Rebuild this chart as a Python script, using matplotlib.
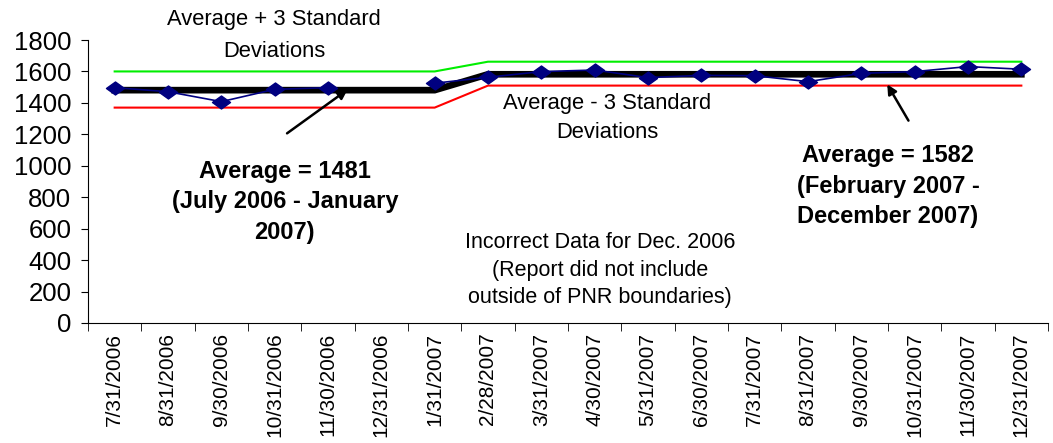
import matplotlib
matplotlib.use("Agg")
import matplotlib.pyplot as plt
from matplotlib.path import Path
import numpy as np

dates = ["7/31/2006", "8/31/2006", "9/30/2006", "10/31/2006", "11/30/2006", "12/31/2006",
         "1/31/2007", "2/28/2007", "3/31/2007", "4/30/2007", "5/31/2007", "6/30/2007",
         "7/31/2007", "8/31/2007", "9/30/2007", "10/31/2007", "11/30/2007", "12/31/2007"]
values = [1497, 1471, 1408, 1486, 1497, np.nan, 1525, 1563, 1599, 1609, 1561, 1575,
          1573, 1535, 1588, 1599, 1631, 1614]
average = [1481] * 7 + [1582] * 11
upper = [1600] * 7 + [1662] * 11
lower = [1370] * 7 + [1510] * 11

plt.rcParams['font.family'] = ['Liberation Sans', 'DejaVu Sans']

fig = plt.figure(figsize=(10.53, 4.43), dpi=100)
ax = fig.add_axes([88/1053, 1-323/443, 960/1053, 283/443])

diamond = Path([(-1, 0), (0, 0.72), (1, 0), (0, -0.72), (-1, 0)],
               [Path.MOVETO, Path.LINETO, Path.LINETO, Path.LINETO, Path.CLOSEPOLY])

x = np.arange(len(dates))
ax.plot(x, upper, color='#00ee00', lw=1.5)
ax.plot(x, lower, color='#ff0000', lw=1.5)
ax.plot(x, average, color='black', lw=4.8, solid_joinstyle='miter')
ax.plot(x, values, color='#000080', lw=1.2, marker=diamond, markersize=13,
        markerfacecolor='#000080', markeredgecolor='#000080')

ax.set_xlim(-0.5, len(dates) - 0.5)
ax.set_ylim(0, 1800)
ax.set_yticks(np.arange(0, 1801, 200))
ax.tick_params(axis='y', labelsize=18.5, length=5, direction='out', pad=7)
ax.set_xticks(x)
ax.set_xticklabels(dates, rotation=90, fontsize=15)
ax.tick_params(axis='x', length=0, pad=7)
ax.set_xticks(np.arange(-0.5, len(dates) + 0.5, 1), minor=True)
ax.tick_params(axis='x', which='minor', length=6, direction='out')
for s in ['top', 'right']:
    ax.spines[s].set_visible(False)

ax.text(2.99, 1828, "Average + 3 Standard\nDeviations", ha='center', va='center',
        fontsize=15.8, linespacing=1.7)
ax.text(9.23, 1304, "Average - 3 Standard\nDeviations", ha='center', va='center',
        fontsize=15.8, linespacing=1.55)
ax.text(3.19, 770, "Average = 1481\n(July 2006 - January\n2007)", ha='center', va='center',
        fontsize=17, fontweight='bold', linespacing=1.4)
ax.text(14.5, 871, "Average = 1582\n(February 2007 -\nDecember 2007)", ha='center', va='center',
        fontsize=17, fontweight='bold', linespacing=1.4)
ax.text(9.1, 337, "Incorrect Data for Dec. 2006\n(Report did not include\noutside of PNR boundaries)",
        ha='center', va='center', fontsize=15.5, linespacing=1.4)

ax.annotate("", xy=(4.41, 1495), xytext=(3.19, 1196),
            arrowprops=dict(arrowstyle='-|>', color='black', lw=1.8, mutation_scale=14))
ax.annotate("", xy=(14.46, 1533), xytext=(14.91, 1272),
            arrowprops=dict(arrowstyle='-|>', color='black', lw=1.8, mutation_scale=14))

fig.savefig("out.png", dpi=100)
